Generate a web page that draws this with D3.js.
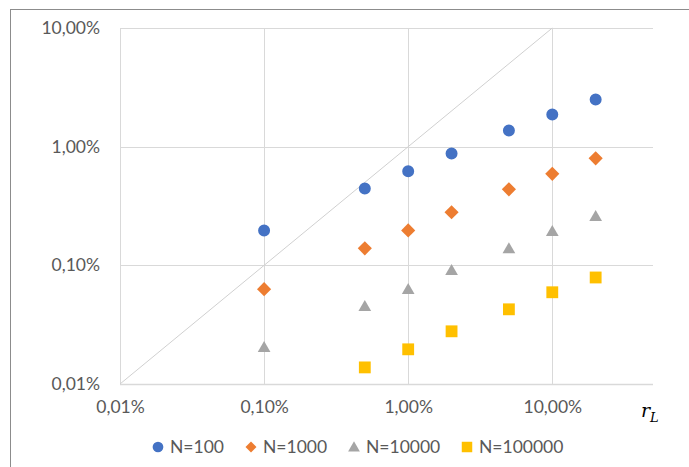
<!DOCTYPE html>
<html>
<head>
<meta charset="utf-8">
<script src="https://cdn.jsdelivr.net/npm/d3@7"></script>
<style>
  html, body { margin: 0; padding: 0; background: #fff; }
  svg { display: block; }
  text { font-family: Lato, "Open Sans", sans-serif; fill: #595959; }
</style>
</head>
<body>
<svg id="chart" width="689" height="467"></svg>
<script>
// Loss rate r_L (x) and resulting values per portfolio size N (y), as fractions
const rL = [0.001, 0.005, 0.01, 0.02, 0.05, 0.10, 0.20];
const seriesNames = ["N=100", "N=1000", "N=10000", "N=100000"];
const n100    = [0.00197, 0.00445, 0.0062, 0.00877, 0.0137, 0.0187, 0.0250];
const n1000   = [0.00063, 0.00139, 0.00197, 0.0028, 0.00437, 0.00590, 0.00797];
const n10000  = [0.00020, 0.000443, 0.000616, 0.00089, 0.00136, 0.00190, 0.00254];
const n100000 = [null, 0.000138, 0.000196, 0.000278, 0.000426, 0.000593, 0.00079];
const colors = ["#4472C4", "#ED7D31", "#A5A5A5", "#FFC000"];
const xTicks = [0.0001, 0.001, 0.01, 0.1];
const yTicks = [0.0001, 0.001, 0.01, 0.1];

const svg = d3.select("#chart");

// outer chart frame
svg.append("rect")
  .attr("x", 10.5).attr("y", 9.5)
  .attr("width", 700).attr("height", 480)
  .attr("fill", "none").attr("stroke", "#8c8c8c").attr("stroke-width", 1);

const plotLeft = 120, plotRight = 653, plotTop = 28, plotBottom = 384;
const x = d3.scaleLog().domain([0.0001, 0.5]).range([plotLeft, plotRight]);
const y = d3.scaleLog().domain([0.0001, 0.1]).range([plotBottom, plotTop]);

const fmt = v => (v * 100).toFixed(2).replace(".", ",") + "%";
const labelFont = "17.5px";

// gridlines
const grid = svg.append("g");
grid.selectAll("line.h").data(yTicks).join("line")
  .attr("x1", plotLeft).attr("x2", plotRight)
  .attr("y1", d => Math.round(y(d)) + 0.5).attr("y2", d => Math.round(y(d)) + 0.5)
  .attr("stroke", "#d9d9d9").attr("stroke-width", d => d === 0.0001 ? 1.5 : 1);
grid.selectAll("line.v").data(xTicks).join("line")
  .attr("y1", plotTop).attr("y2", plotBottom)
  .attr("x1", d => Math.round(x(d)) + 0.5).attr("x2", d => Math.round(x(d)) + 0.5)
  .attr("stroke", "#d9d9d9").attr("stroke-width", 1);

// reference line y = x
svg.append("line")
  .attr("x1", x(0.0001)).attr("y1", y(0.0001))
  .attr("x2", x(0.1)).attr("y2", y(0.1))
  .attr("stroke", "#d0d0d0").attr("stroke-width", 1);

// axes (labels only)
const yAxis = d3.axisLeft(y).tickValues(yTicks).tickFormat(fmt).tickSize(0).tickPadding(20);
svg.append("g").attr("transform", `translate(${plotLeft},0)`).call(yAxis)
  .call(g => g.select(".domain").remove())
  .selectAll("text").style("font-size", labelFont).attr("fill", "#595959")
  .style("font-family", "Lato, 'Open Sans', sans-serif");

const xAxis = d3.axisBottom(x).tickValues(xTicks).tickFormat(fmt).tickSize(0).tickPadding(17);
svg.append("g").attr("transform", `translate(0,${plotBottom})`).call(xAxis)
  .call(g => g.select(".domain").remove())
  .selectAll("text").style("font-size", labelFont).attr("fill", "#595959")
  .style("font-family", "Lato, 'Open Sans', sans-serif");

// axis title r_L
const t = svg.append("text").attr("x", 641).attr("y", 417)
  .style("font-family", "'DejaVu Serif', 'Liberation Serif', serif")
  .style("font-style", "italic").style("font-size", "19px").style("fill", "#000");
t.append("tspan").text("r");
t.append("tspan").text("L").attr("dy", 5).style("font-size", "13px");

// marker shapes: circle, diamond (rotated square), triangle, square
const symbolTypes = [d3.symbolCircle, d3.symbolSquare, d3.symbolTriangle, d3.symbolSquare];
const symbolSizes = [113, 100, 70, 140];
const symbolRot = [0, 45, 0, 0];
const allSeries = [n100, n1000, n10000, n100000];

allSeries.forEach((vals, i) => {
  const pts = rL.map((r, j) => ({ r, v: vals[j] })).filter(d => d.v != null);
  svg.append("g").selectAll("path").data(pts).join("path")
    .attr("d", d3.symbol().type(symbolTypes[i]).size(symbolSizes[i]))
    .attr("transform", d => `translate(${x(d.r)},${y(d.v)}) rotate(${symbolRot[i]})`)
    .attr("fill", colors[i]);
});

// legend
const legendMarkX = [158, 251, 354, 467];
const leg = svg.append("g");
seriesNames.forEach((name, i) => {
  leg.append("path")
    .attr("d", d3.symbol().type(symbolTypes[i]).size([90, 60, 60, 110][i]))
    .attr("transform", `translate(${legendMarkX[i]},${i === 2 ? 448 : 447}) rotate(${symbolRot[i]})`)
    .attr("fill", colors[i]);
  leg.append("text").attr("x", legendMarkX[i] + 12).attr("y", 453)
    .style("font-size", labelFont).text(name);
});
</script>
</body>
</html>
